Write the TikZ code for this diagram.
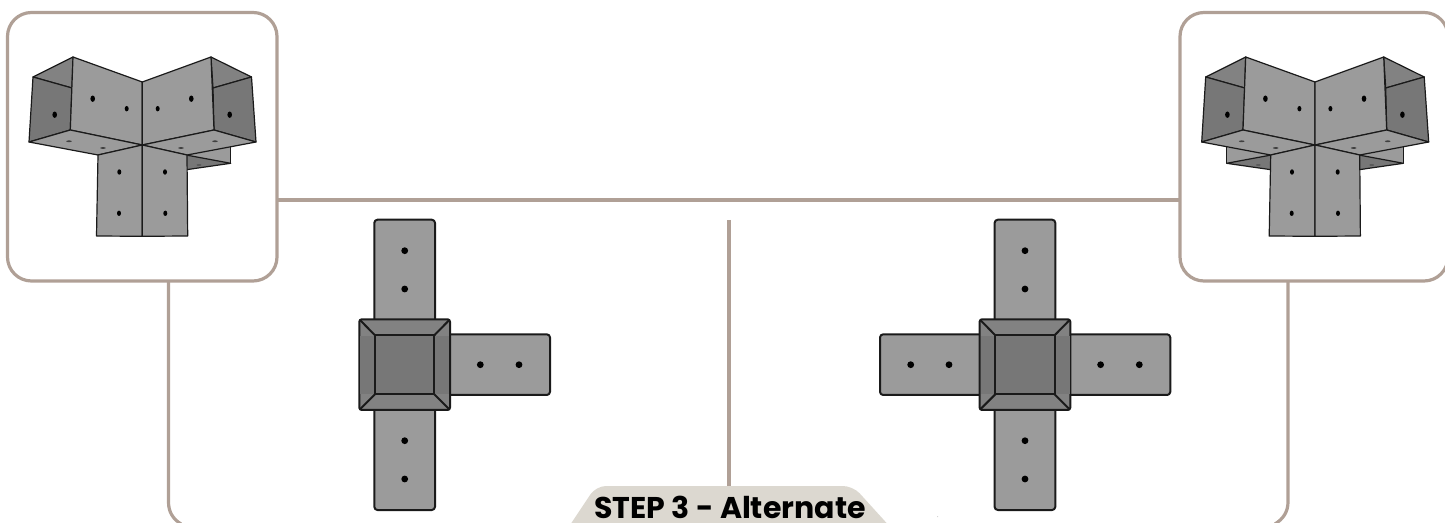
\documentclass[tikz,border=0pt]{standalone}
\usepackage{fontspec}
\setmainfont{Poppins}
\definecolor{frameC}{HTML}{B0A096}
\definecolor{tabC}{HTML}{DCD8D0}
\definecolor{lightC}{HTML}{9B9B9B}
\definecolor{darkC}{HTML}{777777}
\definecolor{midC}{HTML}{828282}
\definecolor{inkC}{HTML}{1A1A1A}
\tikzset{
  x=0.5pt,y=-0.5pt,
  framepath/.style={draw=frameC,line width=1.6pt},
  thin3d/.style={draw=inkC,line width=0.6pt,line join=round},
  flat/.style={draw=inkC,line width=1pt,line join=round},
  arm/.style={flat,fill=lightC,rounded corners=1.6pt},
  hole/.style={fill=black,draw=none},
}
\newcommand{\bracketfront}{%
  % left wing
  \filldraw[thin3d,fill=midC] (33,77)--(73,57)--(72,88)--cycle;
  \filldraw[thin3d,fill=darkC] (33,77)--(72,88)--(70.3,130)--(29,142)--cycle;
  \filldraw[thin3d,fill=lightC] (73,57)--(142.3,82)--(142.3,145)--(70.3,130)--cycle;
  \filldraw[thin3d,fill=lightC] (29,142)--(70.3,130)--(142.3,145)--(98,155)--cycle;
  % right wing
  \filldraw[thin3d,fill=midC] (251.5,77)--(211,57)--(213,88)--cycle;
  \filldraw[thin3d,fill=darkC] (251.5,77)--(213,88)--(214,130)--(256,142)--cycle;
  \filldraw[thin3d,fill=lightC] (211,57)--(142.3,82)--(142.3,145)--(214,130)--cycle;
  \filldraw[thin3d,fill=lightC] (256,142)--(214,130)--(142.3,145)--(187,155)--cycle;
  % lower panel
  \filldraw[thin3d,fill=lightC] (98,155)--(142.3,145)--(142.3,236.3)--(96.5,236)--cycle;
  \filldraw[thin3d,fill=lightC] (187,155)--(142.3,145)--(142.3,236.3)--(187.7,236)--cycle;
  % holes
  \foreach \hx/\hy in {92.7/98.7,191.3/98.7,54.7/114.7,229.7/114.7}
    \fill[hole] (\hx,\hy) ellipse [x radius=1.15pt, y radius=1.6pt];
  \foreach \hx/\hy in {126.7/108.7,157.7/108.7,119.3/172,165/172,119/213.3,165.3/213.3}
    \fill[hole] (\hx,\hy) ellipse [x radius=1pt, y radius=1.35pt];
  \foreach \hx/\hy in {69/141.3,103/148,181/148,215/141.3}
    \fill[black!75] (\hx,\hy) ellipse [x radius=1.4pt, y radius=0.45pt];
}
\newcommand{\righttab}{%
  \fill[lightC] (186,155)--(230.7,147)--(230.7,163.3)--cycle;
  \draw[thin3d] (230.7,147)--(230.7,163.3);
  \filldraw[thin3d,fill=darkC] (186,155)--(230.7,163.3)--(186.5,169.7)--cycle;
  \fill[black!70] (199,165) ellipse [x radius=1.2pt, y radius=0.35pt];
}
\newcommand{\lefttab}{%
  \fill[lightC] (98.6,155)--(53.9,147)--(53.9,163.3)--cycle;
  \draw[thin3d] (53.9,147)--(53.9,163.3);
  \filldraw[thin3d,fill=darkC] (98.6,155)--(53.9,163.3)--(98.1,169.7)--cycle;
  \fill[black!70] (85.6,165) ellipse [x radius=1.2pt, y radius=0.35pt];
}
\newcommand{\armhole}[2]{\fill[hole] (#1,#2) circle [radius=1.7pt];}
\newcommand{\hub}{%
  \filldraw[flat,fill=midC,rounded corners=1.2pt] (359.3,319.3) rectangle (450,410);
  \fill[darkC] (360.2,336)--(374.2,336)--(374.2,394)--(360.2,394)--cycle;
  \fill[darkC] (435,336)--(449.2,336)--(449.2,394)--(435,394)--cycle;
  \filldraw[flat,fill=darkC] (375,335.3) rectangle (434.3,394.3);
  \draw[flat] (360,320)--(375,335.3) (449.3,320)--(434.3,335.3) (360,409.3)--(375,394.3) (449.3,409.3)--(434.3,394.3);
}
\begin{document}
\begin{tikzpicture}
\useasboundingbox (0,0) rectangle (1445,523);
% frame lines
\draw[framepath] (277,200)--(1180,200);
\draw[framepath] (729,220)--(729,487);
\draw[framepath] (168.5,281) -- (168.5,502) .. controls (168.5,512) and (173,519) .. (181,524);
\draw[framepath] (1288,281) -- (1288,502) .. controls (1288,512) and (1283,519) .. (1275,524);
% boxes
\draw[framepath,rounded corners=12pt] (7.5,12.5) rectangle (277,281);
\draw[framepath,rounded corners=12pt] (1180,12.5) rectangle (1448,281);
% left bracket
\begin{scope}
  \righttab
  \bracketfront
\end{scope}
% right bracket
\begin{scope}[shift={(1172.7,0)}]
  \righttab
  \lefttab
  \bracketfront
\end{scope}
% flat T
\begin{scope}
  \filldraw[arm] (374.3,330)--(374.3,219.7)--(435,219.7)--(435,330);
  \filldraw[arm] (374.3,400)--(374.3,510)--(435,510)--(435,400);
  \filldraw[arm] (440,334.3)--(550,334.3)--(550,395)--(440,395);
  \armhole{404.7}{250.7}\armhole{404.7}{289}\armhole{404.7}{440.7}\armhole{404.7}{479}
  \armhole{480.3}{364.7}\armhole{519}{364.7}
  \hub
\end{scope}
% flat cross
\begin{scope}[shift={(620.3,0)}]
  \filldraw[arm] (374.3,330)--(374.3,219.7)--(435,219.7)--(435,330);
  \filldraw[arm] (374.3,400)--(374.3,510)--(435,510)--(435,400);
  \filldraw[arm] (440,334.3)--(550,334.3)--(550,395)--(440,395);
  \filldraw[arm] (370,334.3)--(259.7,334.3)--(259.7,395)--(370,395);
  \armhole{404.7}{250.7}\armhole{404.7}{289}\armhole{404.7}{440.7}\armhole{404.7}{479}
  \armhole{480.3}{364.7}\armhole{519}{364.7}
  \armhole{290.4}{364.7}\armhole{328.7}{364.7}
  \hub
\end{scope}
% step tab
\fill[tabC,rounded corners=5pt] (560,540)--(596,486)--(853,486)--(902,540)--cycle;
\node[inner sep=0pt,anchor=base,text=black,font=\bfseries\fontsize{15}{17}\selectfont] (steplabel) at (730,518) {STEP 3 - Alternate};
\fill[black!45] (937.7,516.7) circle [radius=0.2pt];
\end{tikzpicture}
\end{document}
